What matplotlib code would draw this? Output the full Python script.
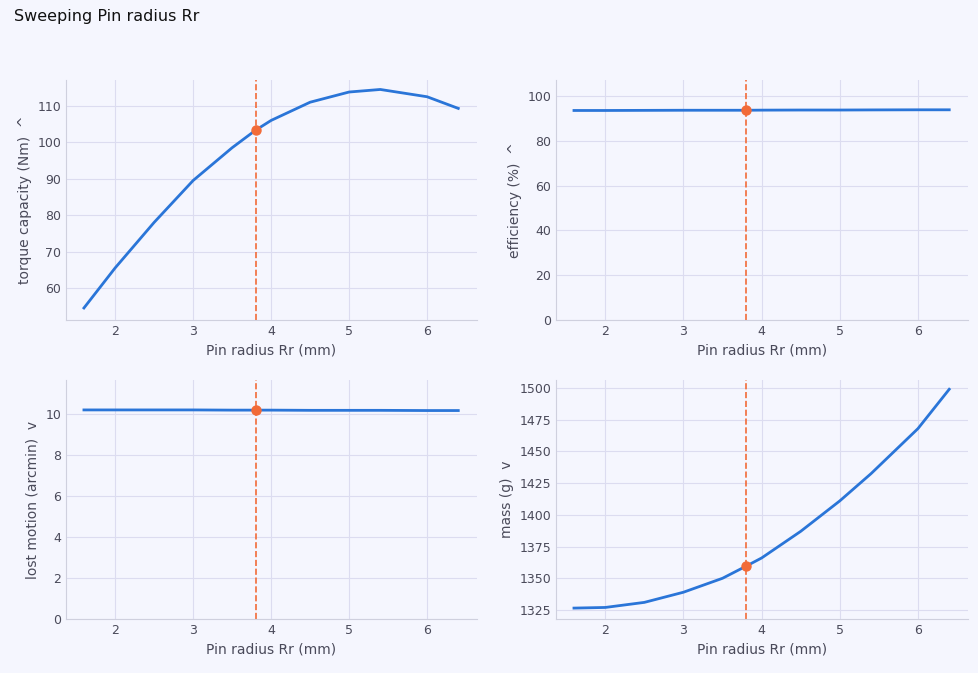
import matplotlib
matplotlib.use("Agg")
import matplotlib.pyplot as plt
import numpy as np

x = [1.6, 2.0, 2.5, 3.0, 3.5, 3.8, 4.0, 4.5, 5.0, 5.4, 6.0, 6.4]
torque = [54.5, 65.5, 78.0, 89.5, 98.5, 103.3, 106.0, 111.0, 113.8, 114.5, 112.5, 109.3]
eff = [93.5, 93.5, 93.55, 93.6, 93.6, 93.6, 93.65, 93.7, 93.7, 93.75, 93.8, 93.8]
lost = [10.2, 10.2, 10.2, 10.2, 10.19, 10.19, 10.19, 10.18, 10.18, 10.18, 10.17, 10.17]
mass = [1326.5, 1327.0, 1331.0, 1339.0, 1350.0, 1359.5, 1366.0, 1387.0, 1411.0, 1432.5, 1468.0, 1499.0]
x_sel = 3.8
sel = {"torque": 103.3, "eff": 93.6, "lost": 10.19, "mass": 1359.5}

bg = "#f5f6fe"
fig = plt.figure(figsize=(9.79, 6.73), dpi=100, facecolor=bg)
W, H = 979, 673
def ax_at(l, t, r, b):
    return fig.add_axes([l / W, 1 - b / H, (r - l) / W, (b - t) / H])

panels = [
    (ax_at(66, 80, 477, 320), torque, "torque capacity (Nm)  ^", (51.2, 117.1), sel["torque"]),
    (ax_at(556, 80, 968, 320), eff, "efficiency (%)  ^", (0, 107.1), sel["eff"]),
    (ax_at(66, 380, 477, 619), lost, "lost motion (arcmin)  v", (0, 11.66), sel["lost"]),
    (ax_at(556, 380, 968, 619), mass, "mass (g)  v", (1317.9, 1506.3), sel["mass"]),
]
for ax, y, lab, yl, ys in panels:
    ax.set_facecolor(bg)
    ax.grid(True, color="#dcdcf0", linewidth=0.8)
    ax.set_axisbelow(True)
    for s in ("top", "right"):
        ax.spines[s].set_visible(False)
    for s in ("left", "bottom"):
        ax.spines[s].set_color("#cfd0de")
    ax.plot(x, y, color="#2a75d8", linewidth=2)
    ax.axvline(x_sel, color="#f26b38", linestyle="--", linewidth=1.2)
    ax.plot([x_sel], [ys], "o", color="#f26b38", markersize=6.5, zorder=5)
    ax.set_xlim(1.37, 6.64)
    ax.set_ylim(*yl)
    ax.set_xticks([2, 3, 4, 5, 6])
    ax.tick_params(colors="#4a4a5a", labelsize=9, length=0)
    ax.set_xlabel("Pin radius Rr (mm)", color="#4a4a5a", fontsize=10)
    ax.set_ylabel(lab, color="#4a4a5a", fontsize=10)

fig.text(14 / W, 1 - 17 / H, "Sweeping Pin radius Rr", fontsize=11.5, va="center", color="#111111")
fig.savefig("out.png", dpi=100, facecolor=bg)
